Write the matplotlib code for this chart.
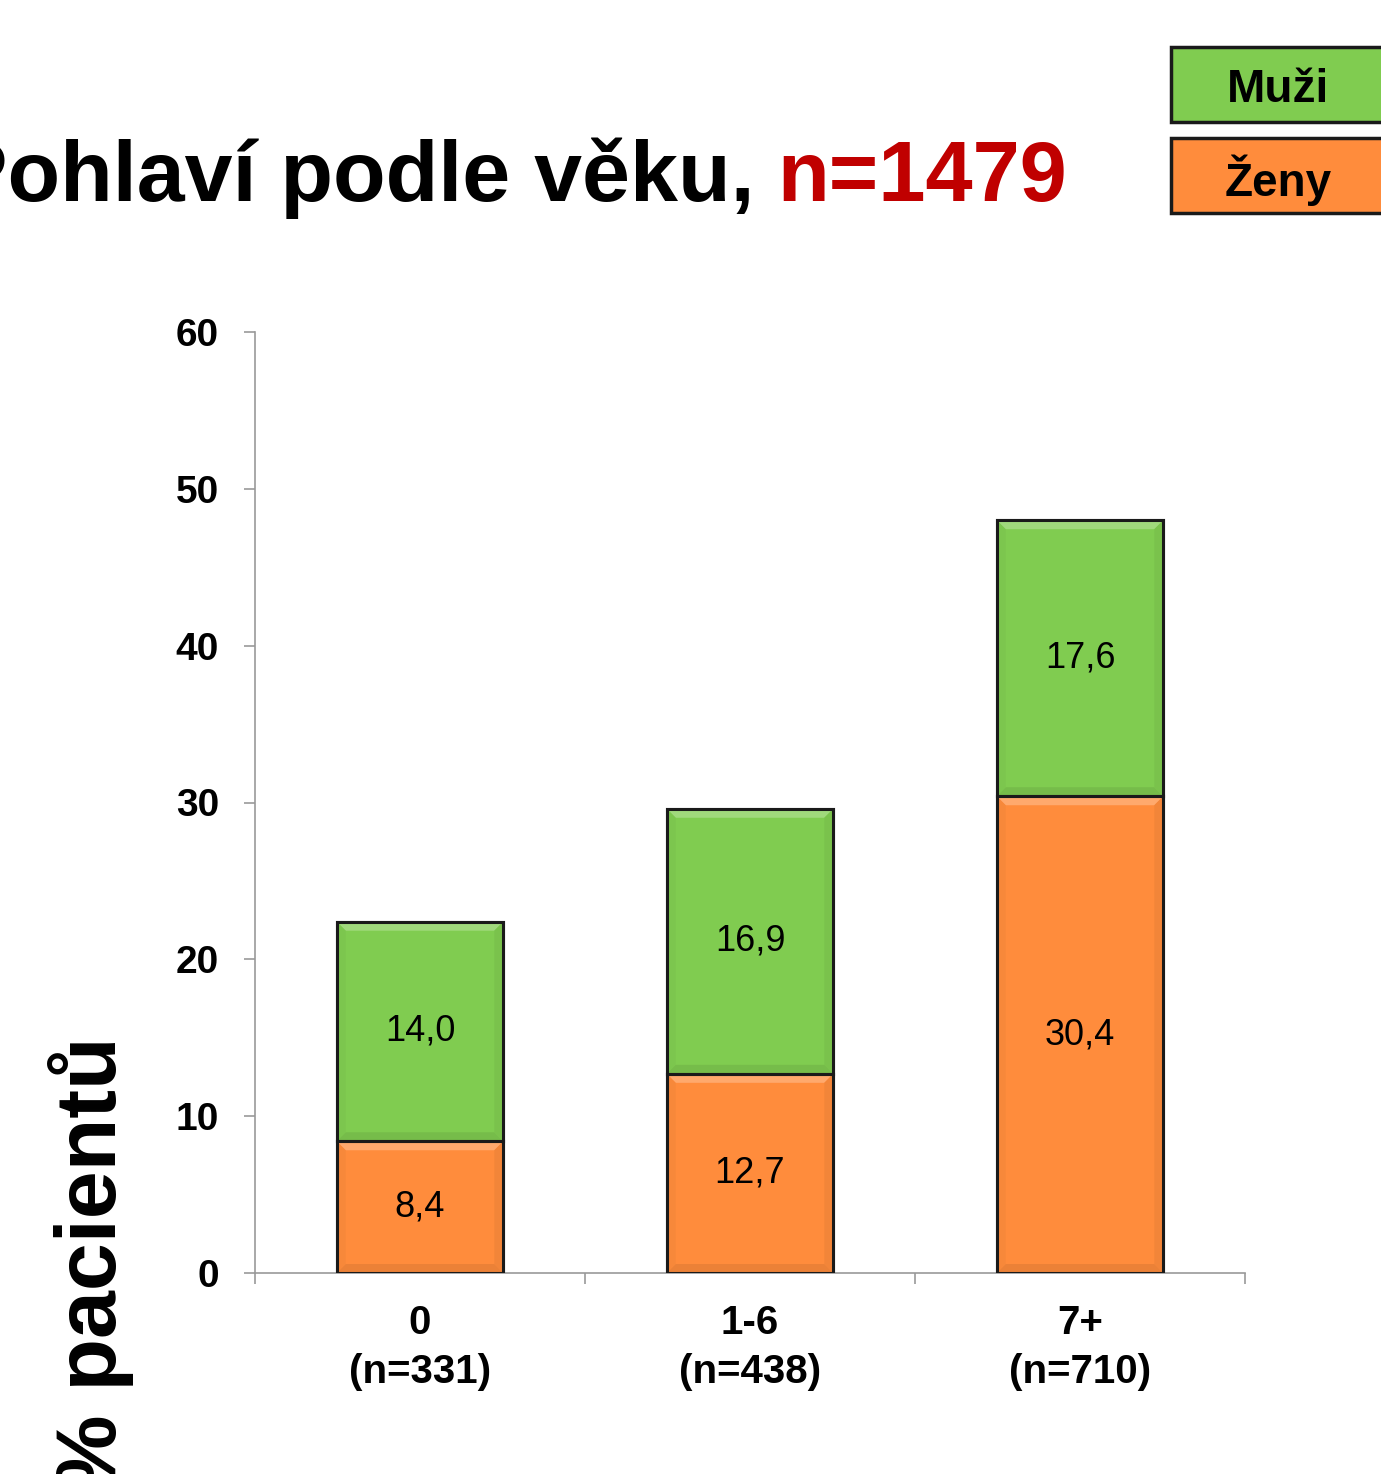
import numpy as np
import matplotlib.pyplot as plt
from matplotlib.patches import Rectangle, Polygon
from matplotlib.colors import to_rgb

plt.rcParams["font.family"] = ["Liberation Sans", "DejaVu Sans"]

categories = ["0\n(n=331)", "1-6\n(n=438)", "7+\n(n=710)"]
zeny = [8.4, 12.7, 30.4]
muzi = [14.0, 16.9, 17.6]
y_ticks = [0, 10, 20, 30, 40, 50, 60]

green = "#80CC50"
orange = "#FF8C3C"
edge = "#1a1a1a"


def shade(c, f):
    r = np.array(to_rgb(c))
    return tuple(r + (1 - r) * f) if f > 0 else tuple(r * (1 + f))


fig = plt.figure(figsize=(13.81, 14.74), dpi=100)
ax = fig.add_axes([255 / 1381, 1 - 1273 / 1474, 990 / 1381, 941 / 1474])

x = np.arange(len(categories))
w = 0.505
ax.bar(x, zeny, width=w, color=orange, edgecolor=edge, linewidth=2.2, zorder=3)
ax.bar(x, muzi, width=w, bottom=zeny, color=green, edgecolor=edge, linewidth=2.2, zorder=3)

# soft bevel on every segment
ax.set_xlim(-0.5, 2.5)
ax.set_ylim(0, 60)
bx, by = 9 / 330, 9 / 15.68
for i in range(len(x)):
    for b0, h, col in [(0, zeny[i], orange), (zeny[i], muzi[i], green)]:
        l, r, bt, tp = x[i] - w / 2, x[i] + w / 2, b0, b0 + h
        sides = [
            ([(l, tp), (r, tp), (r - bx, tp - by), (l + bx, tp - by)], shade(col, 0.25)),
            ([(l, bt), (r, bt), (r - bx, bt + by), (l + bx, bt + by)], shade(col, -0.08)),
            ([(l, bt), (l, tp), (l + bx, tp - by), (l + bx, bt + by)], shade(col, -0.03)),
            ([(r, bt), (r, tp), (r - bx, tp - by), (r - bx, bt + by)], shade(col, -0.05)),
        ]
        for pts, c in sides:
            ax.add_patch(Polygon(pts, closed=True, facecolor=c, edgecolor="none", zorder=3.5))
        ax.add_patch(Rectangle((l, bt), w, h, facecolor="none", edgecolor=edge,
                               linewidth=2.2, zorder=3.6))

for i in range(len(x)):
    ax.text(x[i], zeny[i] / 2, f"{zeny[i]:.1f}".replace(".", ","), ha="center", va="center",
            fontsize=26, zorder=4)
    ax.text(x[i], zeny[i] + muzi[i] / 2, f"{muzi[i]:.1f}".replace(".", ","), ha="center",
            va="center", fontsize=26, zorder=4)

ax.set_yticks(y_ticks)
ax.set_yticklabels([str(t) for t in y_ticks], fontsize=28, fontweight="bold")
ax.set_xticks(x)
ax.set_xticklabels(categories, fontsize=29, fontweight="bold", linespacing=1.38)
ax.set_xticks([-0.5, 0.5, 1.5, 2.5], minor=True)
ax.tick_params(axis="x", which="major", length=0, pad=22)
ax.tick_params(axis="x", which="minor", length=8, width=1.2, color="#999999", direction="out")
ax.tick_params(axis="y", length=8, width=1.2, color="#999999", pad=18)
for s in ["top", "right"]:
    ax.spines[s].set_visible(False)
for s in ["left", "bottom"]:
    ax.spines[s].set_color("#999999")
    ax.spines[s].set_linewidth(1.2)

# title, partly cut at the left edge
fig.text(754 / 1381, 1 - 201 / 1474, "Pohlaví podle věku,", ha="right", va="baseline",
         fontsize=62, fontweight="bold", color="black")
fig.text(777 / 1381, 1 - 201 / 1474, "n=1479", ha="left", va="baseline",
         fontsize=61, fontweight="bold", color="#C00000")

# legend boxes
for y0, y1, col, lab in [(47, 122, green, "Muži"), (138, 213, orange, "Ženy")]:
    fig.patches.append(Rectangle((1171 / 1381, 1 - y1 / 1474), 260 / 1381, (y1 - y0) / 1474,
                                 transform=fig.transFigure, facecolor=col, edgecolor=edge,
                                 linewidth=2.5, figure=fig))
    fig.text(1278 / 1381, 1 - ((y0 + y1) / 2 + 5) / 1474, lab, ha="center", va="center",
             fontsize=33, fontweight="bold")

# y axis label, partly cut at the bottom edge
fig.text(116 / 1381, 1 - 1036 / 1474, "% pacientů", rotation=90, rotation_mode="anchor",
         ha="right", va="baseline", fontsize=62, fontweight="bold")

fig.savefig("out.png", dpi=100)
